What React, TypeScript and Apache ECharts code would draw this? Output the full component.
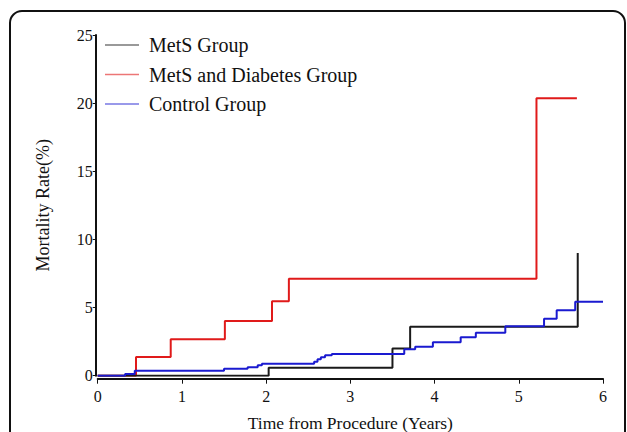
import React, { useEffect, useRef } from "react";
import * as echarts from "echarts";

const seriesNames = ["MetS Group", "MetS and Diabetes Group", "Control Group"];

// Kaplan–Meier style step data: [time (years), mortality (%)]
const metsData: [number, number][] = [
  [0, 0], [2.03, 0.59], [3.5, 1.99], [3.71, 3.6], [5.7, 9.0],
];
const diabetesData: [number, number][] = [
  [0, 0], [0.455, 1.37], [0.867, 2.67], [1.51, 4.02], [2.07, 5.47],
  [2.27, 7.11], [5.21, 20.35], [5.69, 20.35],
];
const controlData: [number, number][] = [
  [0, 0], [0.325, 0.12], [0.44, 0.37], [1.5, 0.51], [1.78, 0.62],
  [1.9, 0.76], [1.95, 0.88], [2.57, 1.03], [2.61, 1.2], [2.65, 1.35],
  [2.7, 1.5], [2.78, 1.6], [3.64, 1.94], [3.77, 2.13], [3.98, 2.45],
  [4.31, 2.82], [4.49, 3.16], [4.84, 3.63], [5.3, 4.17], [5.45, 4.8],
  [5.67, 5.42], [6.0, 5.42],
];
const xTicks = [0, 1, 2, 3, 4, 5, 6];
const yTicks = [0, 5, 10, 15, 20, 25];

const colors = ["#1a1a1a", "#e01a1a", "#1a1ad0"];
const FONT = "Liberation Serif";

export default function App() {
  const ref = useRef<HTMLDivElement>(null);
  useEffect(() => {
    if (!ref.current) return;
    const chart = echarts.init(ref.current, undefined, { renderer: "svg" });
    chart.setOption({
      animation: false,
      backgroundColor: "#ffffff",
      textStyle: { fontFamily: FONT },
      graphic: [
        {
          type: "rect",
          shape: { x: 10, y: 11, width: 615, height: 450, r: 12 },
          style: { fill: "none", stroke: "#111", lineWidth: 2 },
          silent: true,
        },
      ],
      grid: {
        left: 97.7,
        right: 24,
        top: 35,
        bottom: 56.3,
        containLabel: false,
        outerBoundsMode: "none",
      },
      legend: {
        orient: "vertical",
        left: 100,
        top: 30,
        itemWidth: 34,
        itemHeight: 1.5,
        itemGap: 9.5,
        icon: "rect",
        itemStyle: { opacity: 0.6, borderWidth: 0 },
        formatter: (n: string) => "{t| " + n + "}",
        textStyle: {
          fontFamily: FONT,
          fontSize: 20,
          lineHeight: 20,
          color: "#111",
          rich: {
            t: { fontFamily: FONT, fontSize: 20, lineHeight: 20, color: "#111" },
          },
        },
      },
      xAxis: {
        type: "value",
        min: xTicks[0],
        max: xTicks[xTicks.length - 1],
        interval: 1,
        offset: 3,
        name: "Time from Procedure (Years)",
        nameLocation: "middle",
        nameGap: 35,
        nameTextStyle: { fontFamily: FONT, fontSize: 17.5, color: "#111" },
        axisLine: { show: true, onZero: false, lineStyle: { color: "#111", width: 2 } },
        axisTick: { show: true, length: 5, lineStyle: { color: "#111", width: 1 } },
        axisLabel: { fontFamily: FONT, fontSize: 16, color: "#111", margin: 10 },
        splitLine: { show: false },
      },
      yAxis: {
        type: "value",
        min: yTicks[0],
        max: yTicks[yTicks.length - 1],
        interval: 5,
        offset: 2,
        name: "Mortality Rate(%)",
        nameLocation: "middle",
        nameGap: 44,
        nameTextStyle: { fontFamily: FONT, fontSize: 18, color: "#111" },
        axisLine: { show: true, onZero: false, lineStyle: { color: "#111", width: 2 } },
        axisTick: { show: true, length: 3, lineStyle: { color: "#111", width: 1 } },
        axisLabel: { fontFamily: FONT, fontSize: 16, color: "#111", margin: 3 },
        splitLine: { show: false },
      },
      series: [
        {
          name: seriesNames[0],
          type: "line",
          step: "end",
          data: metsData,
          symbol: "none",
          color: colors[0],
          lineStyle: { color: colors[0], width: 2 },
          z: 3,
        },
        {
          name: seriesNames[1],
          type: "line",
          step: "end",
          data: diabetesData,
          symbol: "none",
          color: colors[1],
          lineStyle: { color: colors[1], width: 2 },
          z: 2,
        },
        {
          name: seriesNames[2],
          type: "line",
          step: "end",
          data: controlData,
          symbol: "none",
          color: colors[2],
          lineStyle: { color: colors[2], width: 2 },
          z: 4,
        },
      ],
    });
    return () => chart.dispose();
  }, []);
  return (
    <div
      ref={ref}
      style={{ position: "fixed", left: 0, top: 0, width: 627, height: 432 }}
    />
  );
}
